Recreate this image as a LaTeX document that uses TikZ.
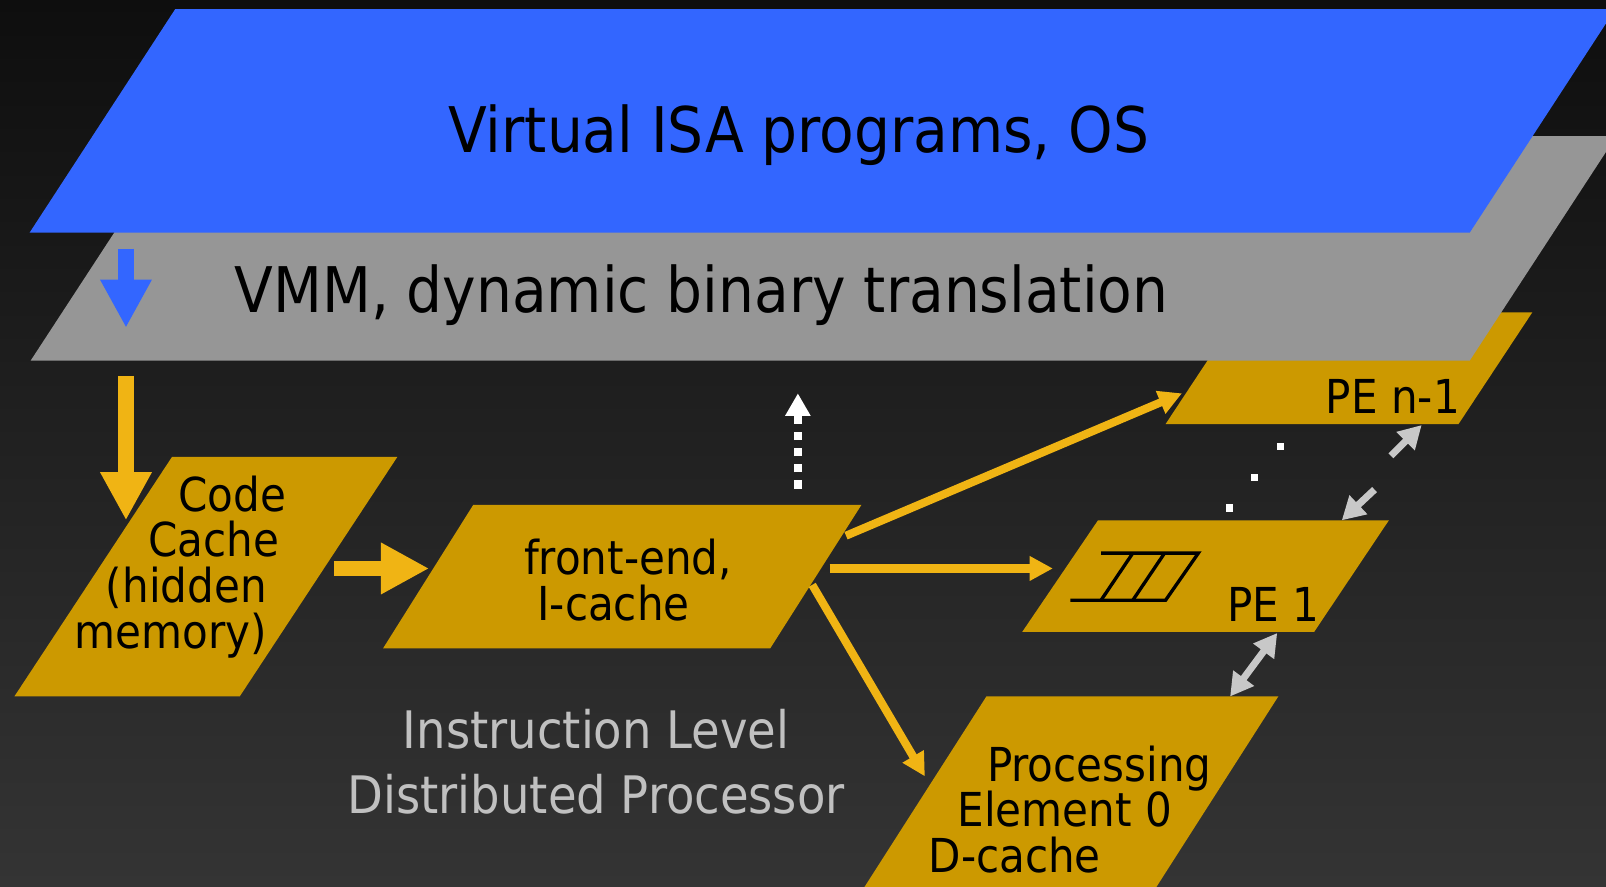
\documentclass[tikz,border=0pt]{standalone}
\usepackage{fontspec}
\setmainfont{DejaVu Sans Condensed}
\usetikzlibrary{arrows.meta}

\definecolor{bgtop}{RGB}{14,14,14}
\definecolor{bgbot}{RGB}{52,52,52}
\definecolor{isablue}{RGB}{51,102,255}
\definecolor{vmmgray}{RGB}{150,150,150}
\definecolor{pegold}{RGB}{204,153,0}
\definecolor{flowgold}{RGB}{240,180,20}
\definecolor{linkgray}{RGB}{200,200,200}
\definecolor{notegray}{RGB}{192,192,192}

\tikzset{
  bigflow/.style={line width=4.5pt,-{Triangle[width=13.7pt,length=13.7pt]}},
  feed/.style={flowgold,line width=2.3pt,-{Triangle[width=6.6pt,length=6.6pt]}},
  link/.style={linkgray,line width=2pt,-{Triangle[width=7pt,length=6.5pt]}},
  twolink/.style={linkgray,line width=2pt,{Triangle[width=7pt,length=6.5pt]}-{Triangle[width=7pt,length=6.5pt]}},
  bigword/.style={font=\fontsize{17.9}{22}\selectfont,inner sep=0pt},
  peword/.style={font=\fontsize{13.3}{13}\selectfont,inner sep=0pt},
}

\begin{document}
\begin{tikzpicture}[x=0.010242cm,y=-0.010242cm]
	\shade [top color=bgtop,bottom color=bgbot] (0,0) rectangle (1568,866);
	\useasboundingbox (0,0) rectangle (1568,866);
	\clip (0,0) rectangle (1568,866);
	% layers, back to front
	\fill [pegold] (1210,305) -- (1496,305) -- (1424,414) -- (1138,414) -- cycle;
	\fill [vmmgray] (173,133) -- (1578,133) -- (1435,352) -- (30,352) -- cycle;
	\fill [isablue] (171,9) -- (1577,9) -- (1435,227) -- (29,227) -- cycle;
	\node [bigword,anchor=base] (isa) at (780,149) {Virtual ISA programs, OS};
	\node [bigword,anchor=base] (vmm) at (685,305) {VMM, dynamic binary translation};
	% processor blocks
	\fill [pegold] (168,446) -- (388,446) -- (234,680) -- (14,680) -- cycle;
	\fill [pegold] (462,493) -- (841,493) -- (752,633) -- (374,633) -- cycle;
	\fill [pegold] (1072,508) -- (1356,508) -- (1283,617) -- (998,617) -- cycle;
	\fill [pegold] (963,680) -- (1248,680) -- (1129,866) -- (844,866) -- cycle;
	\node [peword,anchor=base east,align=right] (cctext) at (280,633)
		{Code\\Cache\rule{2pt}{0pt}\\(hidden\rule{5.5pt}{0pt}\\memory)\rule{5.5pt}{0pt}};
	\node [peword,anchor=base west,align=left] (fetext) at (511,606) {front-end,\\\rule{3.8pt}{0pt}I-cache};
	\node [peword,anchor=base east] (pent) at (1426,404) {PE n-1};
	\node [peword,anchor=base east] (peone) at (1289,607) {PE 1};
	\node [peword,anchor=base west,align=left] (pezero) at (906,852)
		{\rule{16.6pt}{0pt}Processing\\\rule{8.2pt}{0pt}Element 0\\D-cache};
	\node [font=\fontsize{14.7}{18.4}\selectfont,text=notegray,inner sep=0pt,anchor=base,align=center] (ildp) at (582,794)
		{Instruction Level\\Distributed Processor};
	% pipeline mark in PE 1
	\draw [line width=0.95pt] (1075,540) -- (1170,540) -- (1138,586) -- (1045,586);
	\draw [line width=0.95pt] (1106,540) -- (1075,586);
	\draw [line width=0.95pt] (1137,540) -- (1106,586);
	% dots between PE 1 and PE n-1
	\fill [white] (1246.5,432.5) rectangle (1253.5,439.5);
	\fill [white] (1221.5,462.5) rectangle (1228.5,469.5);
	\fill [white] (1196.5,492.5) rectangle (1203.5,499.5);
	% arrows
	\coordinate (isadrop) at (123,243);
	\coordinate (isaland) at (123,320);
	\draw [bigflow,isablue] (isadrop) -- (isaland);
	\coordinate (ccfeed) at (123,367);
	\coordinate (ccin) at (123,508);
	\draw [bigflow,flowgold] (ccfeed) -- (ccin);
	\coordinate (ccout) at (326,555);
	\coordinate (fein) at (419,555);
	\draw [bigflow,flowgold] (ccout) -- (fein);
	\coordinate (feup) at (779,477);
	\coordinate (vmmback) at (779,384);
	\draw [white,line width=2.3pt,dash pattern=on 2.3pt off 2.3pt,-{Triangle[width=6.8pt,length=6.4pt]}] (feup) -- (vmmback);
	\coordinate (feoutn) at (826,523);
	\coordinate (pentin) at (1154,384);
	\draw [feed] (feoutn) -- (pentin);
	\coordinate (feoutone) at (810,555);
	\coordinate (peonein) at (1028,555);
	\draw [feed] (feoutone) -- (peonein);
	\coordinate (feoutzero) at (793,571);
	\coordinate (pezeroin) at (903,758);
	\draw [feed] (feoutzero) -- (pezeroin);
	\coordinate (upstart) at (1358,445);
	\coordinate (pentlow) at (1388,415);
	\draw [link] (upstart) -- (pentlow);
	\coordinate (downstart) at (1342,478);
	\coordinate (peonetop) at (1310,508);
	\draw [link] (downstart) -- (peonetop);
	\coordinate (peonelow) at (1247,618);
	\coordinate (pezerotop) at (1201,680);
	\draw [twolink] (peonelow) -- (pezerotop);
\end{tikzpicture}
\end{document}
